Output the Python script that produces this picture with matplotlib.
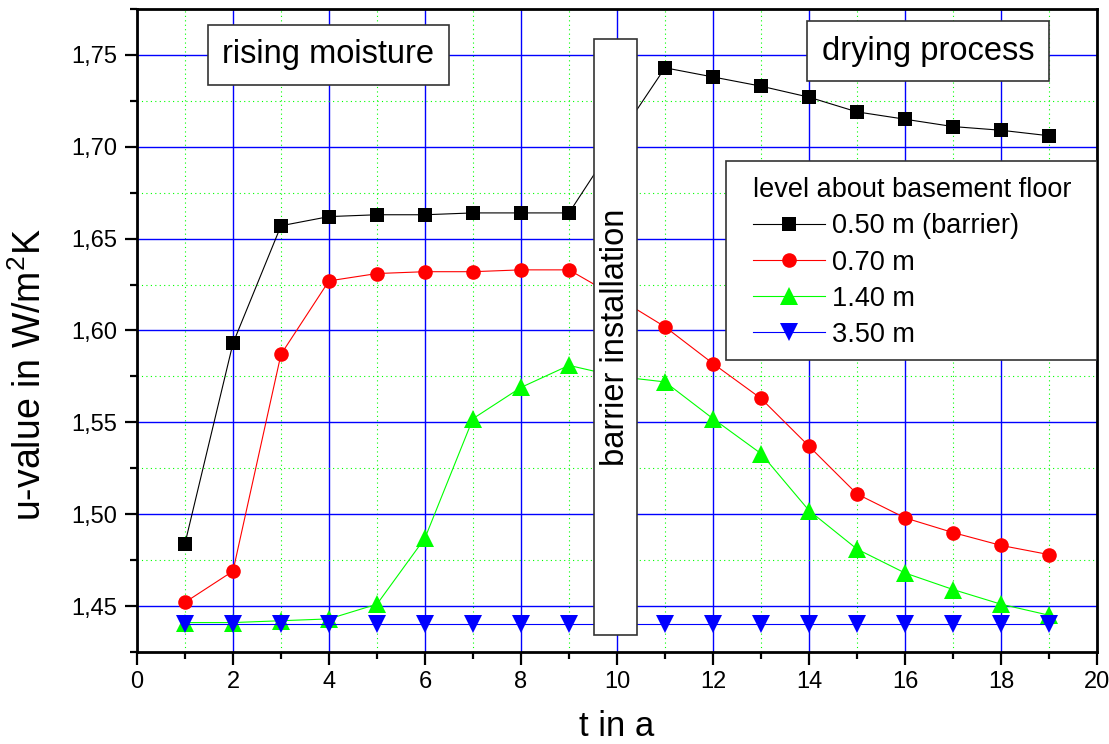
import matplotlib.pyplot as plt
from matplotlib.patches import Rectangle
from matplotlib.ticker import MultipleLocator, FuncFormatter

plt.rcParams['font.family'] = ['Liberation Sans', 'DejaVu Sans']
plt.rcParams['mathtext.fontset'] = 'custom'
plt.rcParams['mathtext.rm'] = 'Liberation Sans'
plt.rcParams['mathtext.it'] = 'Liberation Sans:italic'

# years after start
t = list(range(1, 20))

# u-value at different heights above the basement floor
u_050 = [1.484, 1.593, 1.657, 1.662, 1.663, 1.663, 1.664, 1.664, 1.664, 1.704,
         1.743, 1.738, 1.733, 1.727, 1.719, 1.715, 1.711, 1.709, 1.706]
u_070 = [1.452, 1.469, 1.587, 1.627, 1.631, 1.632, 1.632, 1.633, 1.633, 1.618,
         1.602, 1.582, 1.563, 1.537, 1.511, 1.498, 1.490, 1.483, 1.478]
u_140 = [1.441, 1.441, 1.442, 1.443, 1.451, 1.487, 1.552, 1.569, 1.581, 1.575,
         1.572, 1.552, 1.533, 1.502, 1.481, 1.468, 1.459, 1.451, 1.445]
u_350 = [1.440] * 19

labels = ['0.50 m (barrier)', '0.70 m', '1.40 m', '3.50 m']

fig = plt.figure(figsize=(11.09, 7.44), dpi=100)
ax = fig.add_axes([0.1235, 0.1237, 0.8657, 0.8642])

ax.plot(t, u_050, color='black', lw=0.8, marker='s', ms=10, mew=0, label=labels[0])
ax.plot(t, u_070, color='red', lw=0.8, marker='o', ms=10.5, mew=0, label=labels[1])
ax.plot(t, u_140, color='#00ff00', lw=0.8, marker='^', ms=13, mew=0, label=labels[2])
ax.plot(t, u_350, color='blue', lw=0.8, marker='v', ms=13, mew=0, label=labels[3])

ax.set_xlim(0, 20)
ax.set_ylim(1.425, 1.775)
ax.xaxis.set_major_locator(MultipleLocator(2))
ax.xaxis.set_minor_locator(MultipleLocator(1))
ax.yaxis.set_major_locator(MultipleLocator(0.05))
ax.yaxis.set_minor_locator(MultipleLocator(0.025))
ax.yaxis.set_major_formatter(FuncFormatter(lambda v, p: f'{v:.2f}'.replace('.', ',')))

ax.set_axisbelow(True)
ax.grid(which='major', color='#0000ff', lw=1.0)
ax.grid(which='minor', color='#00ff00', lw=0.8, ls=(0, (1, 3)))

for s in ax.spines.values():
    s.set_linewidth(2)
ax.tick_params(which='major', direction='out', length=9, width=1.6, labelsize=17, pad=5)
ax.tick_params(which='minor', direction='out', length=5, width=1.6)

ax.set_xlabel('t in a', fontsize=25, labelpad=12)
ax.set_ylabel('u-value in W/m$^2$K', fontsize=27)
ax.yaxis.set_label_coords(-0.092, 0.432)

# phase labels
box = dict(boxstyle='square,pad=0.45', fc='white', ec='#333333', lw=1.2)
ax.text(3.99, 1.750, 'rising moisture', fontsize=23.5, ha='center', va='center',
        bbox=box, zorder=5)
ax.text(16.48, 1.752, 'drying process', fontsize=23.5, ha='center', va='center',
        bbox=box, zorder=5)

# barrier marker between the two phases
ax.add_patch(Rectangle((9.52, 1.4342), 0.90, 0.3245, fc='white', ec='#333333',
                       lw=1.2, zorder=5))
ax.text(9.97, 1.5965, 'barrier installation', fontsize=23.5, rotation=90,
        ha='center', va='center', zorder=6)

# legend with its own frame
ax.add_patch(Rectangle((12.27, 1.584), 7.73, 0.1083, fc='white', ec='#333333',
                       lw=1.2, zorder=5))
leg = ax.legend(title='level about basement floor', alignment='left',
                loc='upper left', bbox_to_anchor=(0.642, 0.738),
                frameon=False, fontsize=19.5, title_fontsize=19.5,
                borderpad=0, borderaxespad=0, handlelength=2.63,
                handletextpad=0.26, labelspacing=0.37)
leg.set_zorder(6)

fig.savefig('out.png', dpi=100)
